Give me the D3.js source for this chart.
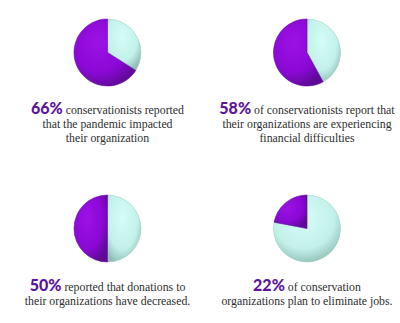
<!DOCTYPE html>
<html><head><meta charset="utf-8">
<script src="https://cdn.jsdelivr.net/npm/d3@7"></script>
<style>body{margin:0;background:#fff}svg{display:block}</style>
</head><body>
<svg id="c" width="400" height="323"></svg>
<script>
const percents = [66, 58, 50, 22];
const percentLabels = ["66%", "58%", "50%", "22%"];
const firstLines = [" conservationists reported", " of conservationists report that", " reported that donations to", " of conservation"];
const otherLines = [
  ["that the pandemic impacted", "their organization"],
  ["their organizations are experiencing", "financial difficulties"],
  ["their organizations have decreased."],
  ["organizations plan to eliminate jobs."]
];

const svg = d3.select("#c");
const cx = [107.5, 307, 107.5, 307];
const cy = [52.5, 52.5, 228.5, 228.5];
const textY = [110, 110, 286.5, 286.5];
const r = 33.5;

const defs = svg.append("defs");
const gp = defs.append("radialGradient").attr("id","gPurple").attr("cx","40%").attr("cy","35%").attr("r","70%");
gp.append("stop").attr("offset","0%").attr("stop-color","#9c12e6");
gp.append("stop").attr("offset","65%").attr("stop-color","#8a08d4");
gp.append("stop").attr("offset","100%").attr("stop-color","#5e0a96");
const gc = defs.append("radialGradient").attr("id","gCyan").attr("cx","45%").attr("cy","35%").attr("r","70%");
gc.append("stop").attr("offset","0%").attr("stop-color","#d6fcf6");
gc.append("stop").attr("offset","65%").attr("stop-color","#c2f1ea");
gc.append("stop").attr("offset","100%").attr("stop-color","#8fbdb6");

const pie = d3.pie().sort(null).value(d => d.v);
const arc = d3.arc().innerRadius(0).outerRadius(r);
const serif = "'Liberation Serif', 'DejaVu Serif', serif";
const fs = 11.8;

percents.forEach((p, i) => {
  const g = svg.append("g").attr("transform", `translate(${cx[i]},${cy[i]})`);
  const data = [{k:"rest", v:100-p}, {k:"yes", v:p}];
  g.append("circle").attr("r", r).attr("fill", "url(#gCyan)");
  g.selectAll("path").data(pie(data)).join("path")
    .attr("d", arc)
    .attr("fill", d => d.data.k === "yes" ? "url(#gPurple)" : "url(#gCyan)")
    .attr("stroke", d => d.data.k === "yes" ? "#6a0ca8" : "#a9d6cf")
    .attr("stroke-width", 0.6);

  const t = svg.append("text").attr("x", cx[i]).attr("y", textY[i] + 4).attr("text-anchor","middle")
    .attr("font-family", serif).attr("font-size", fs).attr("fill","#2e2e2e");
  t.append("tspan").text(percentLabels[i]).attr("font-family","Lato, 'Open Sans', sans-serif")
    .attr("font-weight", 900).attr("font-size", 16).attr("fill","#5c1699");
  t.append("tspan").text(firstLines[i]);
  otherLines[i].forEach((line, j) => {
    svg.append("text").attr("x", cx[i]).attr("y", textY[i] + 4 + 14*(j+1)).attr("text-anchor","middle")
      .attr("font-family", serif).attr("font-size", fs).attr("fill","#2e2e2e")
      .text(line);
  });
});
</script>
</body></html>
